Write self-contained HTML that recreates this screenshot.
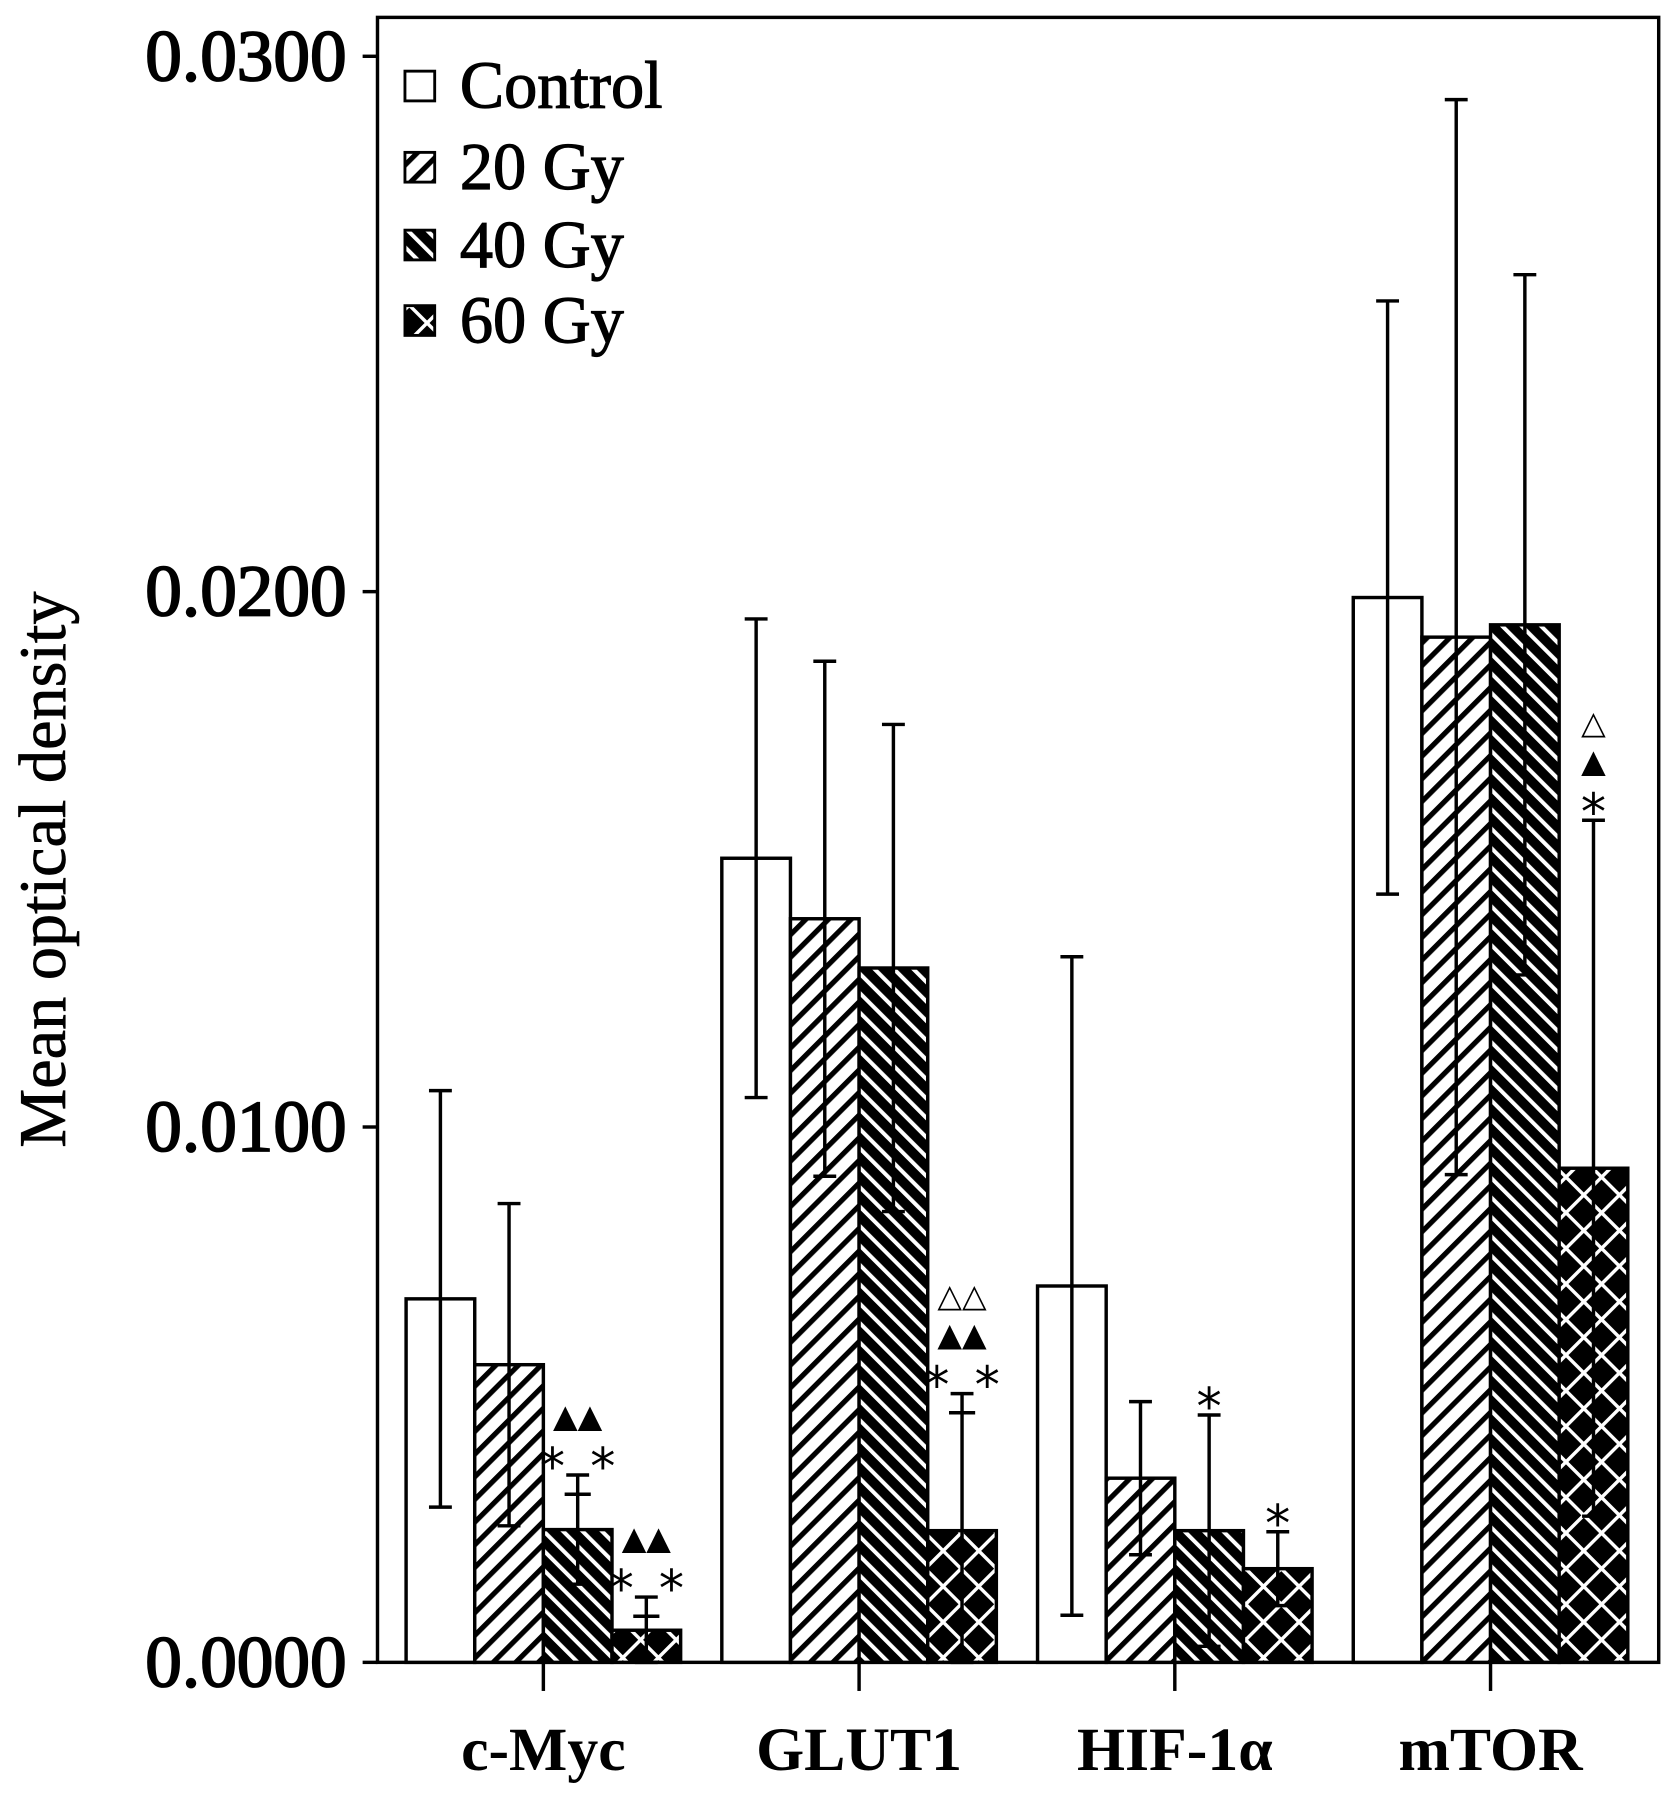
<!DOCTYPE html>
<html><head><meta charset="utf-8"><style>
html,body{margin:0;padding:0;background:#fff;}
svg{display:block;font-family:"Liberation Serif",serif;}
</style></head><body>
<svg id="chart" width="1677" height="1793" viewBox="0 0 1466 1567" xmlns="http://www.w3.org/2000/svg">
<defs>
<pattern id="p20" patternUnits="userSpaceOnUse" width="14" height="14" patternTransform="rotate(45)">
<rect width="14" height="14" fill="#fff"/><rect x="0" y="0" width="4.5" height="14" fill="#000"/></pattern>
<pattern id="p40" patternUnits="userSpaceOnUse" width="12" height="12" patternTransform="rotate(-45)">
<rect width="12" height="12" fill="#000"/><rect x="0" y="0" width="3.5" height="12" fill="#fff"/></pattern>
<pattern id="p60" patternUnits="userSpaceOnUse" width="22" height="22" patternTransform="rotate(45)">
<rect width="22" height="22" fill="#000"/><rect x="0" y="0" width="3" height="22" fill="#fff"/><rect x="0" y="0" width="22" height="3" fill="#fff"/></pattern>
</defs>
<g id="plot"></g>
</svg>
<script>
const categories = ["c-Myc", "GLUT1", "HIF-1\u03b1", "mTOR"];
const seriesNames = ["Control", "20 Gy", "40 Gy", "60 Gy"];
const control = [0.00679, 0.01502, 0.00703, 0.01989];
const gy20 = [0.00556, 0.01389, 0.00344, 0.01915];
const gy40 = [0.00248, 0.01297, 0.00246, 0.01938];
const gy60 = [0.00060, 0.00246, 0.00175, 0.00923];
const errControl = [0.00389, 0.00447, 0.00615, 0.00554];
const errGy20 = [0.00301, 0.00481, 0.00143, 0.01004];
const errGy40 = [0.00102, 0.00455, 0.00216, 0.00654];
const errGy60 = [0.00062, 0.00256, 0.00069, 0.00650];
const yTicks = [0, 0.01, 0.02, 0.03];
const yTickLabels = ["0.0000", "0.0100", "0.0200", "0.0300"];
const annotations = [
  {cat:0, s:2, lines:["*_*","\u25b2\u25b2"]},
  {cat:0, s:3, lines:["*_*","\u25b2\u25b2"]},
  {cat:1, s:3, lines:["*_*","\u25b2\u25b2","\u25b3\u25b3"]},
  {cat:2, s:2, lines:["*"]},
  {cat:2, s:3, lines:["*"]},
  {cat:3, s:3, lines:["*","\u25b2","\u25b3"]}
];
const values = [control, gy20, gy40, gy60];
const errs = [errControl, errGy20, errGy40, errGy60];
const fills = ["#fff", "url(#p20)", "url(#p40)", "url(#p60)"];

const NS = "http://www.w3.org/2000/svg";
const g = document.getElementById("plot");
const X0 = 330, X1 = 1450, Y0 = 1453, YT = 15;
const yScale = v => Y0 - v / 0.01 * 468;
const groupCenter = i => 475 + i * 276;
const barW = 60;
const barX = (i, s) => groupCenter(i) - 2 * barW + s * barW;
function el(tag, attrs, parent) {
  const e = document.createElementNS(NS, tag);
  for (const k in attrs) e.setAttribute(k, attrs[k]);
  (parent || g).appendChild(e);
  return e;
}
const frame = el("rect", {x:X0, y:YT, width:X1-X0, height:Y0-YT, fill:"none", stroke:"#000", "stroke-width":3});


yTicks.forEach((t, i) => {
  const y = yScale(t);
  const tk = el("line", {x1:X0-13, x2:X0, y1:y, y2:y, stroke:"#000", "stroke-width":3});
  
  
  const lb = el("text", {x:303, y:y+21, "text-anchor":"end", "font-size":64, stroke:"#000", "stroke-width":1.6});
  lb.textContent = yTickLabels[i];
  
  
});
const yt = el("text", {x:0, y:0, transform:"translate(57,760) rotate(-90)", "text-anchor":"middle", "font-size":58, stroke:"#000", "stroke-width":0.6});
yt.textContent = "Mean optical density";


categories.forEach((c, i) => {
  const cx = groupCenter(i);
  const tk = el("line", {x1:cx, x2:cx, y1:Y0, y2:Y0+25, stroke:"#000", "stroke-width":3});
  
  
  const lb = el("text", {x:cx, y:1547, "text-anchor":"middle", "font-size":54, "font-weight":"bold"});
  lb.textContent = c;
  
  
  values.forEach((arr, s) => {
    const v = arr[i], x = barX(i, s), y = yScale(v);
    const b = el("rect", {x:x, y:y, width:barW, height:Y0-y, fill:fills[s], stroke:"#000", "stroke-width":3});
    
    
    const e = errs[s][i], ex = x + barW/2;
    const yh = yScale(v + e), yl = yScale(Math.max(0, v - e));
    const eg = el("g", {stroke:"#000", "stroke-width":3});
    
    
    el("line", {x1:ex, x2:ex, y1:yh, y2:yl}, eg);
    el("line", {x1:ex-10, x2:ex+10, y1:yh, y2:yh}, eg);
    el("line", {x1:ex-10, x2:ex+10, y1:yl, y2:yl}, eg);
  });
});
annotations.forEach(a => {
  const v = values[a.s][a.cat] + errs[a.s][a.cat];
  const cx = barX(a.cat, a.s) + barW/2;
  let y = yScale(v) - 8;
  a.lines.forEach(line => {
    const isStar = line.indexOf("*") >= 0;
    const t = el("text", {x:cx, y:isStar ? y + 16 : y, "text-anchor":"middle", "font-size":isStar ? 44 : 28, "font-family":"'DejaVu Sans',sans-serif"});
    t.textContent = line;
    
    
    y -= 34;
  });
});
seriesNames.forEach((n, s) => {
  const cy = [75, 146, 214, 280][s];
  const sw = el("rect", {x:354, y:cy-13, width:26, height:26, fill:fills[s], stroke:"#000", "stroke-width":2.5});
  
  
  const t = el("text", {x:402, y:cy+19, "font-size":58, stroke:"#000", "stroke-width":1});
  t.textContent = n;
  
  
});
</script>
</body></html>
